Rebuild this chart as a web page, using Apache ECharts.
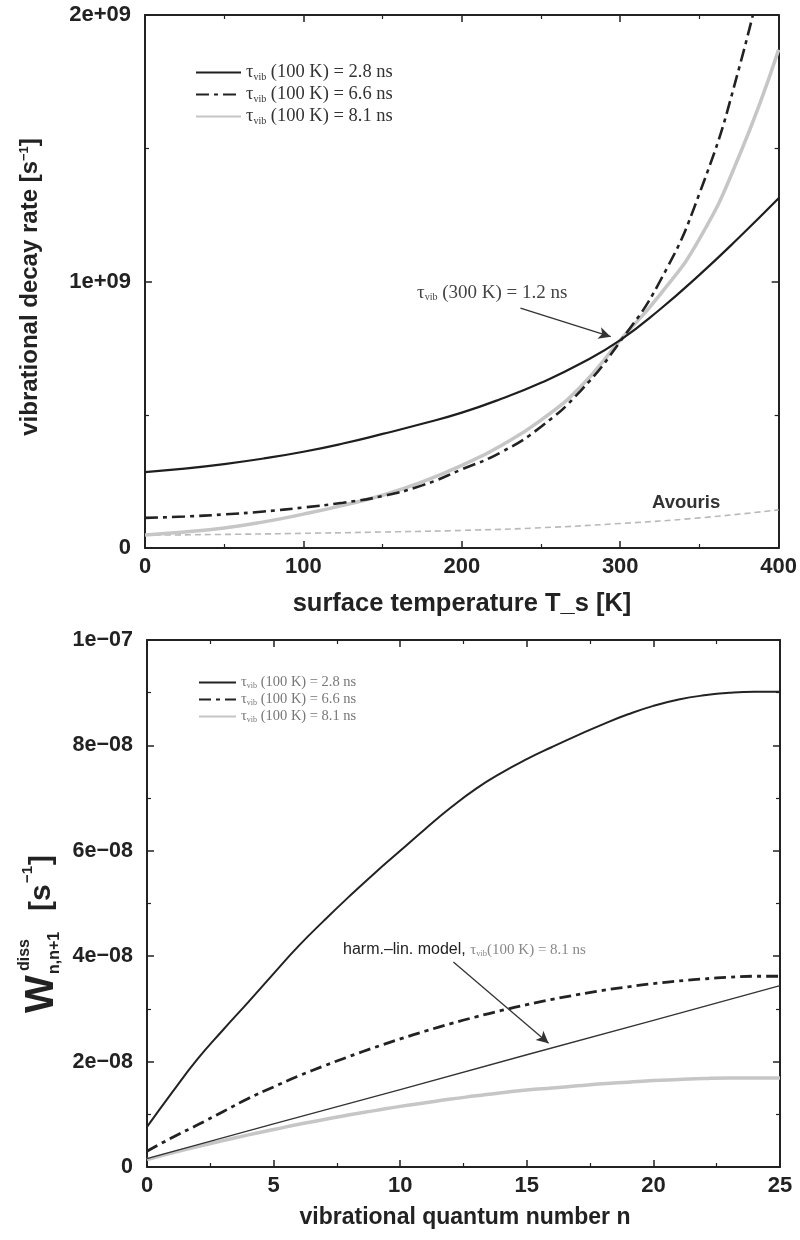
<!DOCTYPE html>
<html>
<head>
<meta charset="utf-8">
<script src="https://cdn.jsdelivr.net/npm/echarts@6/dist/echarts.min.js"></script>
<style>html,body{margin:0;padding:0;background:#fff;}#c{width:800px;height:1240px;}</style>
</head>
<body>
<div id="c"></div>
<script>
// ---------- Top panel data (rate in units of 1e9 s^-1) ----------
const tempK   = [0,25,50,75,100,125,150,175,200,225,250,275,300,325,350,375,400];
const rate28  = [0.285,0.298,0.315,0.336,0.361,0.392,0.428,0.466,0.508,0.56,0.62,0.692,0.78,0.895,1.025,1.165,1.312];
const rate66  = [0.113,0.118,0.126,0.137,0.152,0.17,0.195,0.235,0.295,0.36,0.455,0.59,0.775,1.0,1.33,1.8,2.42];
const rate81  = [0.049,0.06,0.075,0.098,0.127,0.16,0.198,0.248,0.31,0.385,0.48,0.605,0.78,0.95,1.16,1.47,1.87];
const avourisT = [0,50,100,150,200,250,300,350,400];
const avouris  = [0.048,0.051,0.055,0.06,0.066,0.076,0.092,0.113,0.143];

// ---------- Bottom panel data (W in units of 1e-8 s^-1) ----------
const quantumN = [0,1,2,3,4,5,6,7,8,9,10,11,12,13,14,15,16,17,18,19,20,21,22,23,24,25];
const w28 = [0.76,1.42,2.05,2.6,3.13,3.67,4.2,4.68,5.14,5.58,6.0,6.42,6.82,7.18,7.48,7.74,7.97,8.19,8.4,8.59,8.75,8.87,8.95,9.0,9.02,9.02];
const w66 = [0.30,0.56,0.8,1.05,1.3,1.52,1.73,1.92,2.1,2.27,2.43,2.58,2.72,2.85,2.97,3.08,3.18,3.27,3.35,3.42,3.48,3.53,3.57,3.6,3.62,3.62];
const w81 = [0.14,0.27,0.39,0.5,0.61,0.71,0.81,0.9,0.99,1.07,1.15,1.22,1.29,1.35,1.41,1.46,1.5,1.54,1.58,1.61,1.64,1.66,1.68,1.69,1.69,1.69];
const harmLinN = [0,5,10,15,20,25];
const harmLin  = [0.16,0.82,1.47,2.13,2.78,3.44];

// ---------- Labels ----------
const legendLabels = ['(100 K) = 2.8 ns','(100 K) = 6.6 ns','(100 K) = 8.1 ns'];
const topYTicks = ['0','1e+09','2e+09'];
const botYTicks = ['0','2e\u221208','4e\u221208','6e\u221208','8e\u221208','1e\u221207'];
const topArrow = [[237,0.90],[294,0.793]];
const botArrow = [[12.1,3.89],[15.86,2.35]];

const pair = (xs, ys) => xs.map((x,i)=>[x, ys[i]]);
const SANS = '"Liberation Sans", Arial, sans-serif';
const SERIF = '"Liberation Serif", "Times New Roman", serif';
const AX = '#222';

function xAx(grid, min, max, interval, pos, labels) {
  return {
    type:'value', gridIndex:grid, min, max, interval, position:pos,
    axisLine:{show:true, onZero:false, lineStyle:{color:AX, width:2}},
    axisTick:{show:true, inside:true, length:7, lineStyle:{color:AX, width:1.5}},
    minorTick:{show:true, splitNumber:2, length:4, lineStyle:{color:AX, width:1.2}},
    splitLine:{show:false},
    axisLabel:{show:labels, margin:8, fontFamily:SANS, fontWeight:'bold', fontSize:22, color:AX}
  };
}
function yAx(grid, min, max, interval, pos, labels, texts, fs) {
  return {
    type:'value', gridIndex:grid, min, max, interval, position:pos,
    axisLine:{show:true, onZero:false, lineStyle:{color:AX, width:2}},
    axisTick:{show:true, inside:true, length:7, lineStyle:{color:AX, width:1.5}},
    minorTick:{show:true, splitNumber:2, length:4, lineStyle:{color:AX, width:1.2}},
    splitLine:{show:false},
    axisLabel:{show:labels, margin:14, fontFamily:SANS, fontWeight:'bold', fontSize:fs || 21, color:AX,
      formatter:(v, i)=> texts ? texts[i] : String(v)}
  };
}

const legRich = (fs, col) => ({
  t:{fontFamily:SERIF, fontSize:fs, color:col},
  s:{fontFamily:SERIF, fontSize:Math.round(fs*0.55), color:col, verticalAlign:'bottom'}
});
const hideSym = {color:'rgba(0,0,0,0)', borderColor:'rgba(0,0,0,0)', borderWidth:0, opacity:0};

const chart = echarts.init(document.getElementById('c'), null, {renderer:'canvas'});
const option = {
  animation:false,
  backgroundColor:'#fff',
  grid:[
    {left:145, top:15, width:635, height:533},
    {left:147, top:640, width:633, height:527}
  ],
  xAxis:[
    xAx(0,0,400,100,'bottom',true),
    xAx(0,0,400,100,'top',false),
    xAx(1,0,25,5,'bottom',true),
    xAx(1,0,25,5,'top',false)
  ],
  yAxis:[
    yAx(0,0,2,1,'left',true,topYTicks,22),
    yAx(0,0,2,1,'right',false,null),
    yAx(1,0,10,2,'left',true,botYTicks,21.5),
    yAx(1,0,10,2,'right',false,null)
  ],
  legend:[
    {data:['a1','a2','a3'], left:190, top:58, orient:'vertical', itemWidth:45, itemHeight:14, itemGap:3,
     selectedMode:false, itemStyle:hideSym,
     formatter:n=>'{t|\u03c4}{s|vib}{t| '+legendLabels[['a1','a2','a3'].indexOf(n)]+'}',
     textStyle:{rich:legRich(18.5,'#333')}},
    {data:['b1','b2','b3'], left:193, top:670, orient:'vertical', itemWidth:37, itemHeight:12, itemGap:2,
     selectedMode:false, itemStyle:hideSym,
     formatter:n=>'{t|\u03c4}{s|vib}{t| '+legendLabels[['b1','b2','b3'].indexOf(n)]+'}',
     textStyle:{rich:legRich(14.5,'#777')}}
  ],
  series:[
    {name:'avouris', type:'line', xAxisIndex:0, yAxisIndex:0, data:pair(avourisT,avouris), smooth:true, showSymbol:false, symbol:'none',
     lineStyle:{color:'#b9b9b9', width:1.6, type:[6,4]}},
    {name:'a3', type:'line', xAxisIndex:0, yAxisIndex:0, data:pair(tempK,rate81), smooth:true, symbol:'none',
     lineStyle:{color:'#c6c6c6', width:3.5}, itemStyle:{color:'#c6c6c6'}},
    {name:'a2', type:'line', xAxisIndex:0, yAxisIndex:0, data:pair(tempK,rate66), smooth:true, symbol:'none',
     lineStyle:{color:'#222', width:2.6, type:[13,5,4,5]}, itemStyle:{color:'#222'}},
    {name:'a1', type:'line', xAxisIndex:0, yAxisIndex:0, data:pair(tempK,rate28), smooth:true, symbol:'none',
     lineStyle:{color:'#1e1e1e', width:2.2}, itemStyle:{color:'#1e1e1e'},
     markLine:{silent:true, symbol:['none','arrow'], symbolSize:[9,12], label:{show:false},
       lineStyle:{color:'#333', width:1.4, type:'solid'},
       data:[[{coord:topArrow[0]},{coord:topArrow[1]}]]}},
    {name:'b3', type:'line', xAxisIndex:2, yAxisIndex:2, data:pair(quantumN,w81), smooth:true, symbol:'none',
     lineStyle:{color:'#c6c6c6', width:3.5}, itemStyle:{color:'#c6c6c6'}},
    {name:'harm', type:'line', xAxisIndex:2, yAxisIndex:2, data:pair(harmLinN,harmLin), smooth:false, symbol:'none',
     lineStyle:{color:'#333', width:1.3},
     markLine:{silent:true, symbol:['none','arrow'], symbolSize:[9,12], label:{show:false},
       lineStyle:{color:'#333', width:1.3, type:'solid'},
       data:[[{coord:botArrow[0]},{coord:botArrow[1]}]]}},
    {name:'b2', type:'line', xAxisIndex:2, yAxisIndex:2, data:pair(quantumN,w66), smooth:true, symbol:'none',
     lineStyle:{color:'#222', width:2.8, type:[12,5,4,5]}, itemStyle:{color:'#222'}},
    {name:'b1', type:'line', xAxisIndex:2, yAxisIndex:2, data:pair(quantumN,w28), smooth:true, symbol:'none',
     lineStyle:{color:'#222', width:2}, itemStyle:{color:'#222'}}
  ],
  graphic:[
    {type:'text', x:462, y:604, style:{text:'surface temperature T_s [K]', font:'bold 25.5px '+SANS, fill:'#222', align:'center', verticalAlign:'middle'}},
    {type:'text', x:30, y:287, rotation:Math.PI/2, style:{
      text:'{m|vibrational decay rate [s}{p|\u22121}{m|]}', align:'center', verticalAlign:'middle',
      rich:{m:{fontSize:24, fontWeight:'bold', fontFamily:SANS, fill:'#222'},
            p:{fontSize:13, fontWeight:'bold', fontFamily:SANS, fill:'#222', verticalAlign:'top'}}}},
    {type:'text', x:417, y:293, style:{
      text:'{t|\u03c4}{s|vib}{t| (300 K) = 1.2 ns}', align:'left', verticalAlign:'middle',
      rich:{t:{fontSize:19, fontFamily:SERIF, fill:'#444'}, s:{fontSize:10, fontFamily:SERIF, fill:'#444', verticalAlign:'bottom'}}}},
    {type:'text', x:652, y:503, style:{text:'Avouris', font:'bold 18.5px '+SANS, fill:'#333', align:'left', verticalAlign:'middle'}},
    {type:'text', x:465, y:1218, style:{text:'vibrational quantum number n', font:'bold 23px '+SANS, fill:'#222', align:'center', verticalAlign:'middle'}},
    {type:'text', x:343, y:950, style:{
      text:'{a|harm.\u2013lin. model, }{t|\u03c4}{s|vib}{t|(100 K) = 8.1 ns}', align:'left', verticalAlign:'middle',
      rich:{a:{fontSize:16, fontFamily:SANS, fill:'#222'},
            t:{fontSize:15, fontFamily:SERIF, fill:'#888'},
            s:{fontSize:8.5, fontFamily:SERIF, fill:'#888', verticalAlign:'bottom'}}}},
    {type:'group', x:42, y:1013, rotation:Math.PI/2, children:[
      {type:'text', x:0, y:0, style:{text:'W', font:'bold 40px '+SANS, fill:'#222', align:'left', verticalAlign:'middle'}},
      {type:'text', x:42, y:-17, style:{text:'diss', font:'bold 16px '+SANS, fill:'#222', align:'left', verticalAlign:'middle'}},
      {type:'text', x:39, y:13, style:{text:'n,n+1', font:'bold 16px '+SANS, fill:'#222', align:'left', verticalAlign:'middle'}},
      {type:'text', x:102, y:0, style:{text:'[s', font:'bold 30px '+SANS, fill:'#222', align:'left', verticalAlign:'middle'}},
      {type:'text', x:130, y:-14, style:{text:'\u22121', font:'bold 15px '+SANS, fill:'#222', align:'left', verticalAlign:'middle'}},
      {type:'text', x:148, y:0, style:{text:']', font:'bold 30px '+SANS, fill:'#222', align:'left', verticalAlign:'middle'}}
    ]}
  ]
};
chart.setOption(option);
</script>
</body>
</html>
